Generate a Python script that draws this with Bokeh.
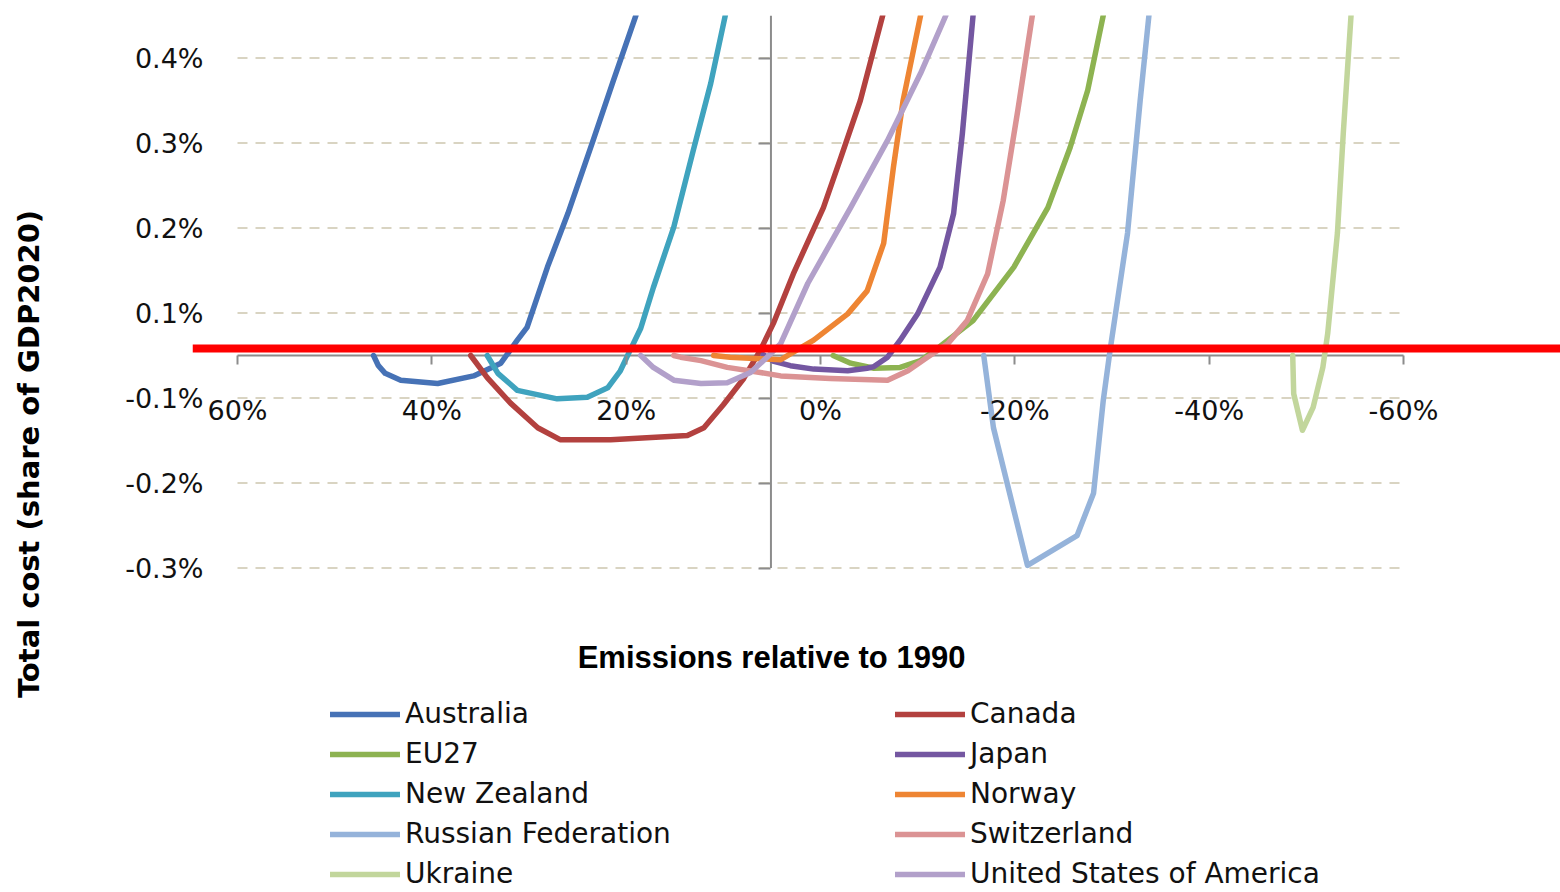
from bokeh.plotting import figure
from bokeh.models import (Range1d, FixedTicker, LinearAxis, Label, Legend,
                          LegendItem, BoxAnnotation)
from bokeh.embed import file_html
from bokeh.resources import INLINE

# ---- data: emissions relative to 1990 (%) and total cost (% of GDP2020) ----
countries = ["Australia", "Canada", "EU27", "Japan", "New Zealand", "Norway",
             "Russian Federation", "Switzerland", "Ukraine",
             "United States of America"]

australia_x = [46.0, 45.5, 44.8, 43.2, 39.4, 35.7, 32.9, 31.2, 30.2, 28.1, 26.0, 23.4, 21.3, 19.0]
australia_y = [0.000, -0.012, -0.021, -0.029, -0.033, -0.024, -0.009, 0.018, 0.033, 0.104, 0.167, 0.253, 0.324, 0.400]

canada_x = [36.0, 34.3, 31.9, 29.1, 26.8, 21.6, 13.7, 12.0, 10.0, 7.9, 6.2, 4.8, 2.8, -0.3, -2.1, -4.1, -6.4]
canada_y = [0.000, -0.026, -0.056, -0.085, -0.099, -0.099, -0.094, -0.085, -0.058, -0.027, 0.006, 0.039, 0.096, 0.174, 0.233, 0.300, 0.400]

eu27_x = [-1.3, -3.1, -5.5, -8.2, -10.3, -12.0, -15.7, -19.9, -23.4, -25.7, -27.5, -29.1]
eu27_y = [0.000, -0.009, -0.015, -0.014, -0.006, 0.008, 0.041, 0.104, 0.174, 0.245, 0.312, 0.400]

japan_x = [5.9, 4.8, 3.1, 0.7, -2.8, -4.8, -5.5, -6.9, -8.2, -10.0, -12.3, -13.7, -14.6, -15.7]
japan_y = [0.001, -0.007, -0.012, -0.016, -0.018, -0.015, -0.013, -0.002, 0.018, 0.049, 0.104, 0.167, 0.261, 0.400]

new_zealand_x = [34.3, 33.2, 31.2, 27.1, 24.0, 21.9, 20.6, 19.6, 18.5, 17.2, 15.1, 13.1, 11.3, 9.8]
new_zealand_y = [0.000, -0.021, -0.041, -0.051, -0.049, -0.038, -0.018, 0.006, 0.032, 0.080, 0.151, 0.241, 0.320, 0.400]

norway_x = [11.0, 9.3, 4.1, 3.1, 0.7, -2.8, -4.8, -6.5, -7.5, -8.5, -10.3]
norway_y = [0.000, -0.002, -0.005, 0.002, 0.018, 0.049, 0.076, 0.132, 0.221, 0.300, 0.400]

russia_x = [-16.8, -17.8, -21.3, -26.4, -28.1, -29.1, -29.8, -31.6, -32.9, -33.8]
russia_y = [0.000, -0.085, -0.247, -0.212, -0.162, -0.053, 0.006, 0.144, 0.300, 0.400]

switzerland_x = [15.1, 14.4, 12.3, 9.6, 6.2, 4.1, -1.0, -6.9, -9.0, -11.0, -13.1, -15.1, -17.2, -18.8, -20.3, -21.8]
switzerland_y = [0.000, -0.002, -0.006, -0.014, -0.020, -0.024, -0.027, -0.029, -0.018, -0.002, 0.014, 0.041, 0.096, 0.182, 0.288, 0.400]

ukraine_x = [-48.6, -48.7, -49.6, -50.7, -51.7, -52.2, -53.2, -53.8, -54.6]
ukraine_y = [0.000, -0.045, -0.088, -0.061, -0.014, 0.026, 0.144, 0.261, 0.400]

usa_x = [18.5, 17.2, 15.1, 12.3, 9.6, 7.2, 5.5, 4.1, 1.3, -3.1, -6.9, -10.3, -12.9]
usa_y = [0.000, -0.014, -0.029, -0.033, -0.032, -0.020, -0.002, 0.014, 0.085, 0.174, 0.253, 0.332, 0.400]

series_x = [australia_x, canada_x, eu27_x, japan_x, new_zealand_x, norway_x,
            russia_x, switzerland_x, ukraine_x, usa_x]
series_y = [australia_y, canada_y, eu27_y, japan_y, new_zealand_y, norway_y,
            russia_y, switzerland_y, ukraine_y, usa_y]
colors = ["#4672B6", "#B3413F", "#8DB351", "#7457A1", "#3FA3BE", "#EE8533",
          "#95B3DA", "#DB9394", "#C2D69C", "#B2A0CA"]

x_ticks = [60, 40, 20, 0, -20, -40, -60]
x_tick_labels = ["60%", "40%", "20%", "0%", "-20%", "-40%", "-60%"]
y_ticks = [-0.25, -0.15, -0.05, 0.05, 0.15, 0.25, 0.35]
y_tick_labels = ["-0.3%", "-0.2%", "-0.1%", "0.1%", "0.2%", "0.3%", "0.4%"]
y_axis_min, y_axis_max = -0.25, 0.40
vertical_axis_at = 5.1
highlight_bottom, highlight_top = 0.0035, 0.0129

x_title = "Emissions relative to 1990"
y_title = "Total cost (share of GDP2020)"

# ---- layout constants (pixels) ----
W, H = 1560, 892
frame_left, frame_top = 192, 15
px_per_x = 1166 / 120.0          # 60% .. -60% spans 1166 px
px_per_y = 850.0                 # pixels per 1 percentage point of GDP
x_start = 60 + (237 - frame_left) / px_per_x
x_end = 60 - (W - 237) / px_per_x
y_end = y_axis_max
y_start = y_axis_max - (H - frame_top) / px_per_y

p = figure(width=W, height=H, x_range=Range1d(x_start, x_end), y_range=Range1d(y_start, y_end),
           output_backend="svg", toolbar_location=None,
           min_border_left=frame_left, min_border_right=0, min_border_top=frame_top,
           min_border_bottom=0)
p.outline_line_color = None
p.background_fill_color = "white"
p.border_fill_color = "white"
p.xgrid.visible = False
p.ygrid.visible = False

axis_gray = "#8C8C8C"
tick_font = "DejaVu Sans"

# dashed horizontal gridlines spanning the tick range
n = len(y_ticks)
p.segment(x0=[x_ticks[0]] * n, x1=[x_ticks[-1]] * n, y0=y_ticks, y1=y_ticks,
          line_color="#D9D4C2", line_width=2, line_dash="10 8")
# horizontal axis line (at zero) and vertical axis line
p.segment(x0=[x_ticks[0]], x1=[x_ticks[-1]], y0=[0], y1=[0], line_color=axis_gray, line_width=2)
p.segment(x0=[vertical_axis_at], x1=[vertical_axis_at], y0=[y_axis_min], y1=[y_axis_max],
          line_color=axis_gray, line_width=2)

# x axis: ticks + labels crossing at zero
xax = p.xaxis[0]
xax.ticker = FixedTicker(ticks=x_ticks)
xax.major_label_overrides = dict(zip(x_ticks, x_tick_labels))
xax.fixed_location = 0
xax.axis_line_color = None
xax.major_tick_line_color = axis_gray
xax.major_tick_line_width = 2
xax.major_tick_out = 9
xax.major_tick_in = 0
xax.minor_tick_line_color = None
xax.major_label_standoff = 30
xax.major_label_text_font = tick_font
xax.major_label_text_font_size = "27px"
xax.major_label_text_color = "#111111"

# y axis: labels + title at the left
yax = p.yaxis[0]
yax.ticker = FixedTicker(ticks=y_ticks)
yax.major_label_overrides = dict(zip(y_ticks, y_tick_labels))
yax.axis_line_color = None
yax.major_tick_line_color = None
yax.minor_tick_line_color = None
yax.major_tick_out = 0
yax.major_tick_in = 0
yax.major_label_standoff = -11
yax.major_label_text_font = tick_font
yax.major_label_text_font_size = "27px"
yax.major_label_text_color = "#111111"
yax.axis_label = y_title
yax.axis_label_standoff = 76
yax.axis_label_text_font = "DejaVu Sans"
yax.axis_label_text_font_style = "bold"
yax.axis_label_text_font_size = "29px"
yax.axis_label_text_color = "#000000"

# tick marks on the vertical axis
vax = LinearAxis(ticker=FixedTicker(ticks=y_ticks), fixed_location=vertical_axis_at,
                 axis_line_color=None, major_tick_line_color=axis_gray,
                 major_tick_line_width=2, major_tick_out=12, major_tick_in=0,
                 minor_tick_line_color=None, major_label_text_color=None)
p.add_layout(vax, "left")

items = []
for name, xs, ys, c in zip(countries, series_x, series_y, colors):
    r = p.line(xs, ys, line_color=c, line_width=5.5, line_join="round", line_cap="round")
    items.append(LegendItem(label=name, renderers=[r]))

legend = Legend(items=items, location=(138, 0), orientation="horizontal", ncols=2,
                padding=0, margin=0, spacing=3, glyph_width=70, glyph_height=20,
                label_height=37, label_width=487, label_standoff=5,
                label_text_font="DejaVu Sans", label_text_font_size="28px",
                label_text_color="#111111", background_fill_alpha=0,
                border_line_color=None)
p.add_layout(legend)

p.add_layout(BoxAnnotation(bottom=highlight_bottom, top=highlight_top,
                           fill_color="#FF0000", fill_alpha=1.0, line_color=None))

p.add_layout(Label(x=5.04, y=-0.3553, text=x_title,
                   text_align="center", text_baseline="middle",
                   text_font="Liberation Sans", text_font_style="bold", text_font_size="31px",
                   text_color="#000000"))

open("out.html", "w").write(file_html(p, INLINE))
